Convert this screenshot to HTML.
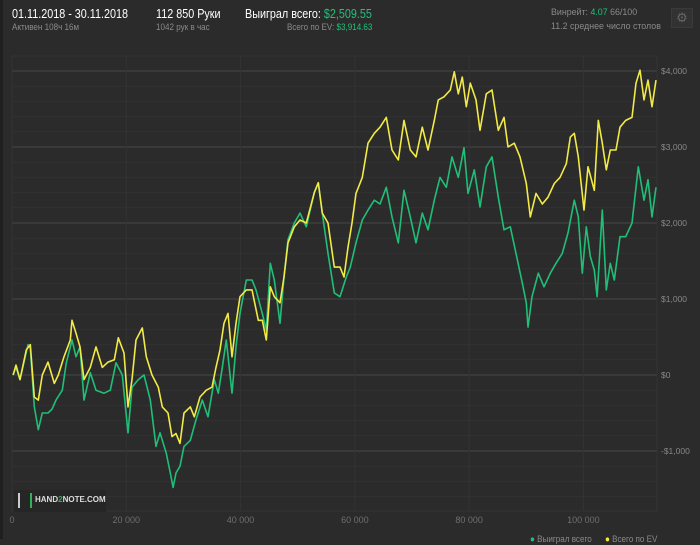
<!DOCTYPE html>
<html><head><meta charset="utf-8">
<style>
body{margin:0;width:700px;height:539px;overflow:hidden;background:#2b2b2b;font-family:"Liberation Sans",sans-serif;position:relative}
.t{position:absolute;white-space:nowrap;transform-origin:0 0}
.w{color:#fff;font-size:13px;transform:scaleX(0.83)}
.g{color:#8a8a8a;font-size:9.5px;transform:scaleX(0.85)}
.gr{color:#22c07a}
</style></head><body>
<div style="position:absolute;left:0;top:0;width:3px;height:539px;background:#1f1f1f"></div>
<div class="t w" style="left:12px;top:6px">01.11.2018 - 30.11.2018</div>
<div class="t g" style="left:12px;top:22px">Активен 108ч 16м</div>
<div class="t w" style="left:156px;top:6px">112 850 Руки</div>
<div class="t g" style="left:156px;top:22px">1042 рук в час</div>
<div class="t w" style="left:245px;top:6px">Выиграл всего: <span class="gr">$2,509.55</span></div>
<div class="t g" style="left:287px;top:22px">Всего по EV: <span class="gr">$3,914.63</span></div>
<div class="t g" style="left:551px;top:7px;transform:scaleX(0.93)">Винрейт: <span class="gr">4.07</span> 66/100</div>
<div class="t g" style="left:551px;top:21px;transform:scaleX(0.93)">11.2 среднее число столов</div>
<div style="position:absolute;left:671px;top:8px;width:20px;height:18px;background:#323232;border:1px solid #3a3a3a;color:#666;font-size:13px;text-align:center;line-height:18px">⚙</div>
<svg id="chart" width="700" height="539" style="position:absolute;left:0;top:0"></svg>
<div style="position:absolute;left:14px;top:490px;width:92px;height:22px;background:#262626">
<div class="t" style="left:4px;top:3px;width:10px;height:15px;border-left:2px solid #ccc;border-right:2px solid #2fb35a"></div>
<div class="t" style="left:21px;top:5px;color:#ddd;font-size:8px;font-weight:bold">HAND<span style="color:#2fb35a">2</span>NOTE.COM</div></div>
<div class="t g" style="left:530px;top:534px"><span style="color:#22c07a">●</span> Выиграл всего</div>
<div class="t g" style="left:605px;top:534px"><span style="color:#f2ea45">●</span> Всего по EV</div>
<script>
const xTicks=[0,20000,40000,60000,80000,100000];
const xTickLabels=["0","20 000","40 000","60 000","80 000","100 000"];
const yTicks=[-1000,0,1000,2000,3000,4000];
const yTickLabels=["-$1,000","$0","$1,000","$2,000","$3,000","$4,000"];
const wonHandsK=[0.2,0.7,1.4,2.8,3.2,3.9,4.6,5.3,6.3,7.0,7.7,8.8,9.5,10.5,11.2,11.9,12.6,13.7,14.7,16.1,17.2,18.2,19.3,20.3,21.0,22.1,23.1,24.2,25.2,25.9,27.0,27.7,28.2,28.7,29.4,30.1,31.2,32.2,33.3,34.3,35.4,36.1,36.8,37.5,38.5,39.2,39.9,41.0,42.0,42.7,43.8,44.5,45.2,45.9,46.9,47.6,48.3,49.4,50.4,51.5,52.9,53.6,54.3,55.3,56.4,57.4,58.5,59.2,60.2,61.3,62.3,63.4,64.4,65.5,66.5,67.6,68.6,69.7,70.7,71.8,72.8,73.9,74.9,76.0,77.0,78.1,79.1,79.8,80.9,81.9,83.0,84.0,85.1,86.1,87.2,88.2,89.3,90.0,90.3,91.0,92.1,93.1,94.2,95.2,96.3,97.3,98.4,99.1,99.8,100.5,101.2,101.9,102.4,103.3,104.0,104.7,105.4,106.4,107.4,108.5,109.6,110.6,111.3,112.0,112.7];
const wonValues=[0,100,-60,400,350,-420,-720,-500,-500,-450,-330,-200,160,460,240,370,-330,30,-200,-240,-200,160,0,-760,-160,-60,0,-330,-940,-760,-1030,-1290,-1480,-1290,-1200,-940,-860,-590,-330,-550,-60,-240,100,460,-240,370,810,1250,1250,1120,810,590,1470,1250,680,1290,1780,2000,2130,1950,2400,2530,2130,1600,1080,1030,1290,1420,1740,2040,2170,2300,2250,2470,2080,1740,2430,2080,1740,2130,1910,2300,2600,2470,2870,2600,2990,2390,2700,2210,2740,2870,2340,1910,1950,1600,1210,950,630,1030,1340,1160,1340,1470,1600,1870,2300,2080,1340,1950,1560,1380,1030,2170,1120,1470,1250,1820,1820,2000,2740,2300,2570,2080,2470];
const evHandsK=[0.2,0.7,1.4,2.5,3.2,3.9,4.6,5.3,6.3,7.4,8.1,9.1,10.2,10.5,11.2,11.9,12.6,13.7,14.7,15.8,16.8,17.9,18.6,19.6,20.3,21.0,21.7,22.8,23.5,24.5,25.6,26.3,27.3,28.0,28.7,29.4,30.1,31.2,31.9,32.9,34.0,35.0,35.7,36.4,37.1,37.8,38.5,39.2,39.9,41.0,42.0,43.1,43.8,44.5,45.2,45.9,46.9,47.6,48.3,49.4,50.4,51.5,52.9,53.6,54.3,55.3,56.4,57.4,58.1,58.8,59.5,60.2,61.3,62.3,63.4,64.4,65.5,66.5,67.6,68.6,69.7,70.7,71.8,72.8,73.9,74.6,75.6,76.7,77.4,78.1,78.8,79.5,80.2,81.2,81.9,83.0,84.0,85.1,86.1,86.8,87.9,88.9,90.0,90.7,91.7,92.8,93.8,94.9,95.9,97.0,97.7,98.4,99.1,100.1,100.8,101.9,102.6,103.3,104.0,104.7,105.7,106.4,107.4,108.5,109.2,109.9,110.6,111.3,112.0,112.7];
const evValues=[0,130,-60,330,400,-290,-330,0,170,-110,0,240,460,720,550,370,-60,100,370,100,170,200,490,290,-420,-60,460,620,240,0,-160,-420,-500,-810,-770,-900,-500,-420,-550,-290,-200,-160,100,330,680,810,240,680,1030,1120,1120,720,720,460,1160,1030,950,1290,1740,1950,2040,2000,2400,2530,2130,2000,1420,1420,1290,1680,2000,2390,2600,3050,3180,3260,3390,2960,2830,3350,2960,2870,3260,2960,3350,3620,3660,3750,3990,3700,3920,3530,3840,3620,3220,3700,3750,3220,3390,3000,3050,2870,2520,2080,2390,2250,2340,2520,2600,2780,3130,3180,2870,2170,2740,2430,3350,3050,2700,2960,2960,3260,3350,3390,3840,4010,3620,3880,3530,3880];
const svg=document.getElementById('chart');
const NS='http://www.w3.org/2000/svg';
const L=12,R=657,T=56,B=511;
const xs=h=>L+h*0.005714;
const ys=v=>375-v*0.076;
function mk(tag,at){const e=document.createElementNS(NS,tag);for(const k in at)e.setAttribute(k,at[k]);svg.appendChild(e);return e;}
for(let v=-1600;v<=4200;v+=200){const y=ys(v);if(y<T||y>B)continue;
 const ln=mk('line',{x1:L,x2:R,y1:y,y2:y,stroke:v%1000===0?'#474747':'#323232','stroke-width':1});
 
 }
xTicks.forEach((t,i)=>{const x=xs(t);
 const ln=mk('line',{x1:x,x2:x,y1:T,y2:B,stroke:'#333','stroke-width':1});
 
 
 const tx=mk('text',{x:x,y:523,fill:'#6f6f6f','font-size':9,'text-anchor':'middle','font-family':'Liberation Sans'});
 tx.textContent=xTickLabels[i];
 
 });
const fr=mk('rect',{x:L,y:T,width:R-L,height:B-T,fill:'none',stroke:'#333'});


yTicks.forEach((t,i)=>{const tx=mk('text',{x:661,y:ys(t)+3,fill:'#888','font-size':8.5,'font-family':'Liberation Sans'});
 tx.textContent=yTickLabels[i];
 
 });
function line(hk,vals,color,name){const d=hk.map((h,i)=>(i?'L':'M')+xs(h*1000).toFixed(1)+' '+ys(vals[i]).toFixed(1)).join('');
 const p=mk('path',{d:d,fill:'none',stroke:color,'stroke-width':1.6,'stroke-linejoin':'round'});
 
 }
line(wonHandsK,wonValues,'#1fbf78','won-line');
line(evHandsK,evValues,'#f2ea45','ev-line');
</script>
</body></html>
